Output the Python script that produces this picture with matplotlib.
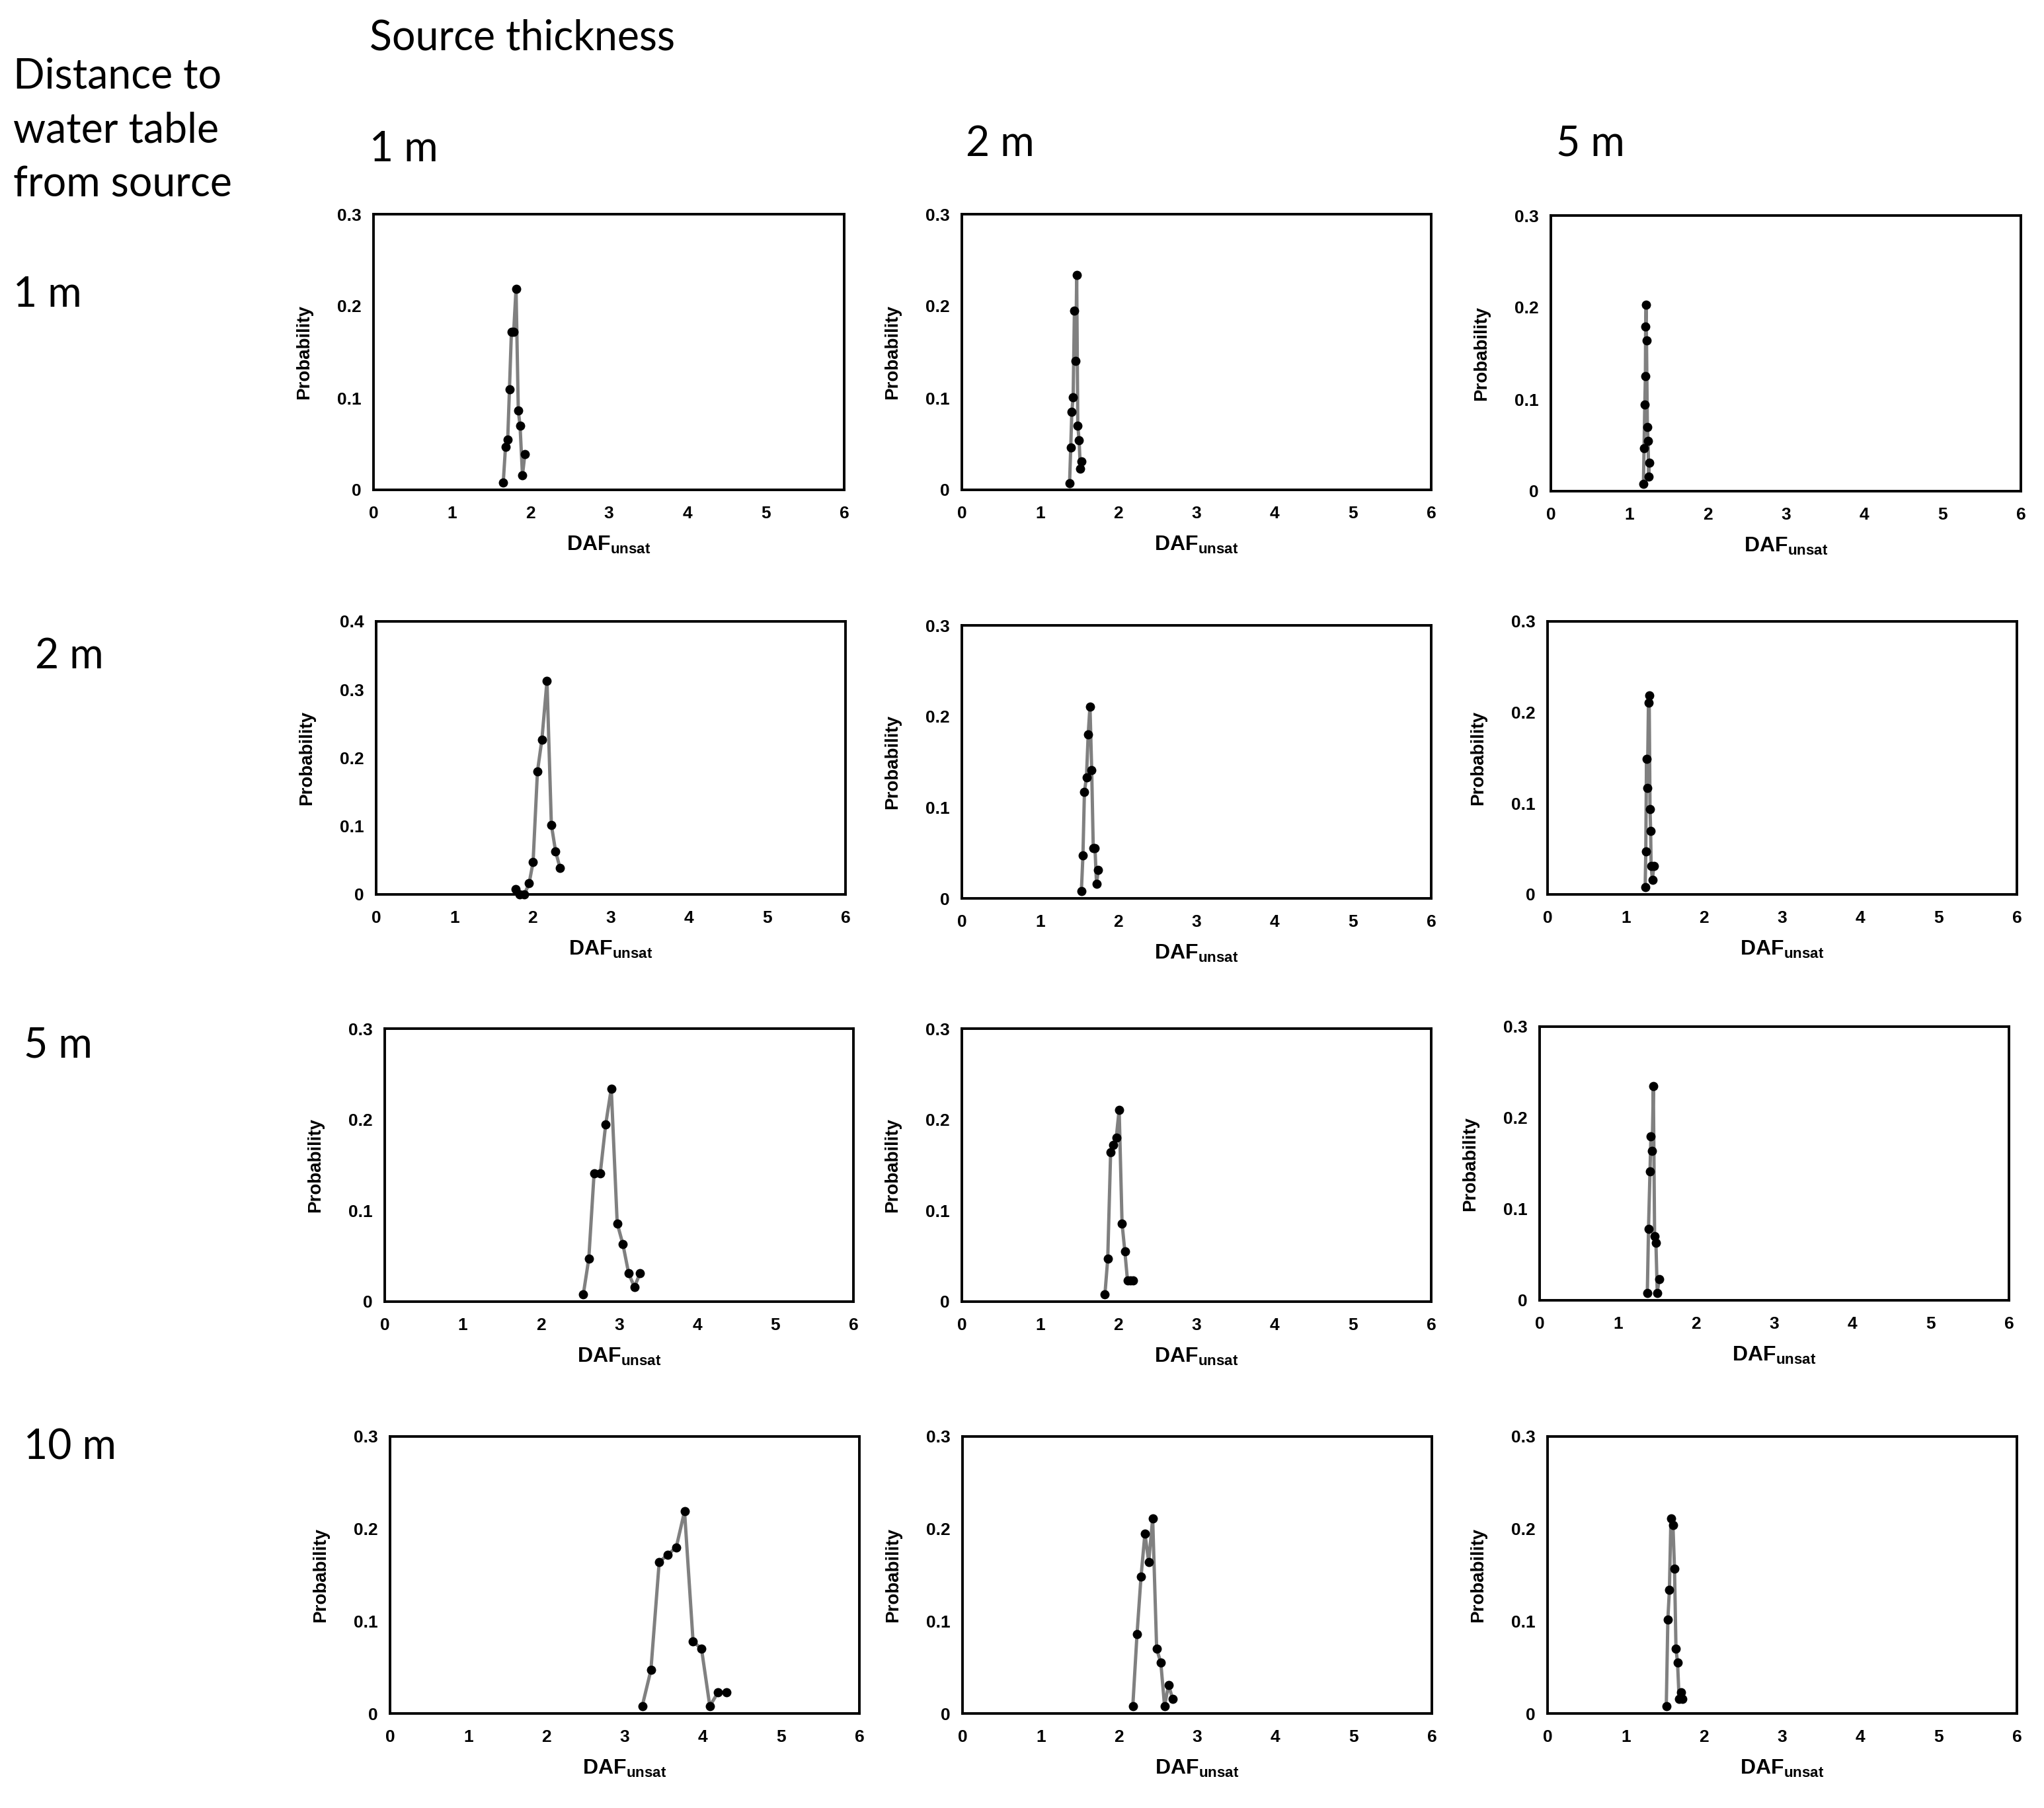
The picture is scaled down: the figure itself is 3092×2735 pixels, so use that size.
import matplotlib
matplotlib.use("Agg")
import matplotlib.pyplot as plt

# --- fonts ---
plt.rcParams["font.family"] = ["Liberation Sans", "DejaVu Sans"]
plt.rcParams["mathtext.fontset"] = "custom"
plt.rcParams["mathtext.bf"] = "Liberation Sans:bold"
plt.rcParams["mathtext.rm"] = "Liberation Sans"
plt.rcParams["mathtext.it"] = "Liberation Sans:italic"

HEAD_FONT = ["Lato", "DejaVu Sans"]
HEAD_SIZE = 45
TICK_SIZE = 19
LABEL_SIZE = 20

# --- labels ---
row_labels = ["1 m", "2 m", "5 m", "10 m"]     # distance to water table
col_labels = ["1 m", "2 m", "5 m"]             # source thickness
x_ticks = [0, 1, 2, 3, 4, 5, 6]

# --- data (DAF_unsat, probability) ---
# distance 1 m
daf_d1_t1 = [1.654, 1.683, 1.711, 1.733, 1.758, 1.787, 1.817, 1.846, 1.868, 1.899, 1.930]
prob_d1_t1 = [0.008, 0.047, 0.055, 0.109, 0.172, 0.172, 0.219, 0.086, 0.070, 0.016, 0.039]
daf_d1_t2 = [1.377, 1.392, 1.406, 1.423, 1.439, 1.456, 1.468, 1.482, 1.499, 1.515, 1.532]
prob_d1_t2 = [0.007, 0.046, 0.085, 0.101, 0.195, 0.140, 0.234, 0.070, 0.054, 0.023, 0.031]
daf_d1_t3 = [1.182, 1.190, 1.199, 1.207, 1.210, 1.216, 1.221, 1.232, 1.241, 1.249, 1.255]
prob_d1_t3 = [0.008, 0.047, 0.094, 0.125, 0.179, 0.203, 0.164, 0.070, 0.055, 0.016, 0.031]
# distance 2 m
daf_d2_t1 = [1.780, 1.833, 1.895, 1.955, 2.006, 2.062, 2.119, 2.184, 2.240, 2.294, 2.350]
prob_d2_t1 = [0.008, 0.0, 0.0, 0.016, 0.047, 0.180, 0.227, 0.313, 0.102, 0.063, 0.039]
daf_d2_t2 = [1.528, 1.548, 1.567, 1.593, 1.615, 1.638, 1.660, 1.680, 1.702, 1.722, 1.744]
prob_d2_t2 = [0.008, 0.047, 0.117, 0.133, 0.180, 0.211, 0.141, 0.055, 0.055, 0.016, 0.031]
daf_d2_t3 = [1.248, 1.256, 1.265, 1.276, 1.290, 1.299, 1.310, 1.318, 1.324, 1.341, 1.358]
prob_d2_t3 = [0.008, 0.047, 0.149, 0.117, 0.211, 0.219, 0.094, 0.070, 0.031, 0.016, 0.031]
# distance 5 m
daf_d3_t1 = [2.542, 2.612, 2.680, 2.759, 2.829, 2.900, 2.976, 3.049, 3.123, 3.196, 3.267]
prob_d3_t1 = [0.008, 0.047, 0.141, 0.141, 0.195, 0.234, 0.086, 0.063, 0.031, 0.016, 0.031]
daf_d3_t2 = [1.829, 1.865, 1.902, 1.938, 1.974, 2.011, 2.048, 2.084, 2.118, 2.154, 2.191]
prob_d3_t2 = [0.008, 0.047, 0.164, 0.172, 0.180, 0.211, 0.086, 0.055, 0.023, 0.023, 0.023]
daf_d3_t3 = [1.377, 1.392, 1.411, 1.423, 1.439, 1.454, 1.470, 1.487, 1.504, 1.527]
prob_d3_t3 = [0.008, 0.078, 0.141, 0.180, 0.164, 0.235, 0.070, 0.063, 0.008, 0.023]
# distance 10 m
daf_d4_t1 = [3.224, 3.335, 3.441, 3.550, 3.659, 3.765, 3.874, 3.982, 4.088, 4.194, 4.303]
prob_d4_t1 = [0.008, 0.047, 0.164, 0.172, 0.180, 0.219, 0.078, 0.070, 0.008, 0.023, 0.023]
daf_d4_t2 = [2.177, 2.231, 2.282, 2.332, 2.380, 2.431, 2.482, 2.535, 2.583, 2.634, 2.685]
prob_d4_t2 = [0.008, 0.086, 0.148, 0.195, 0.164, 0.211, 0.070, 0.055, 0.008, 0.031, 0.016]
daf_d4_t3 = [1.518, 1.538, 1.558, 1.577, 1.603, 1.623, 1.642, 1.662, 1.682, 1.704, 1.724]
prob_d4_t3 = [0.008, 0.102, 0.134, 0.211, 0.204, 0.157, 0.070, 0.055, 0.016, 0.023, 0.016]

panels = [
    [(daf_d1_t1, prob_d1_t1), (daf_d1_t2, prob_d1_t2), (daf_d1_t3, prob_d1_t3)],
    [(daf_d2_t1, prob_d2_t1), (daf_d2_t2, prob_d2_t2), (daf_d2_t3, prob_d2_t3)],
    [(daf_d3_t1, prob_d3_t1), (daf_d3_t2, prob_d3_t2), (daf_d3_t3, prob_d3_t3)],
    [(daf_d4_t1, prob_d4_t1), (daf_d4_t2, prob_d4_t2), (daf_d4_t3, prob_d4_t3)],
]
y_max = [[0.3, 0.3, 0.3], [0.4, 0.3, 0.3], [0.3, 0.3, 0.3], [0.3, 0.3, 0.3]]

# --- layout (pixel boxes: left, top, right, bottom) ---
W, H = 3092, 2735
boxes = [
    [(565, 324, 1277, 741), (1455, 324, 2165, 741), (2346, 326, 3057, 743)],
    [(569, 940, 1279, 1353), (1455, 946, 2165, 1359), (2341, 940, 3051, 1353)],
    [(582, 1556, 1291, 1969), (1455, 1556, 2165, 1969), (2329, 1553, 3039, 1967)],
    [(590, 2173, 1300, 2592), (1456, 2173, 2166, 2592), (2341, 2173, 3051, 2592)],
]

fig = plt.figure(figsize=(W / 100, H / 100), dpi=100)


def fig_xy(px, py):
    return px / W, 1 - py / H


for r in range(4):
    for c in range(3):
        l, t, rt, b = boxes[r][c]
        ax = fig.add_axes([l / W, 1 - b / H, (rt - l) / W, (b - t) / H])
        x, y = panels[r][c]
        ax.plot(x, y, color="#808080", lw=3.6, marker="o", ms=9,
                mfc="black", mec="black", clip_on=False, zorder=3)
        ax.set_xlim(0, 6)
        ax.set_ylim(0, y_max[r][c])
        ax.set_xticks(x_ticks)
        yt = [0, 0.1, 0.2, 0.3] if y_max[r][c] == 0.3 else [0, 0.1, 0.2, 0.3, 0.4]
        ax.set_yticks(yt)
        ax.set_yticklabels(["0" if v == 0 else f"{v:.1f}" for v in yt])
        ax.tick_params(length=0, labelsize=TICK_SIZE)
        ax.tick_params(axis="x", pad=17)
        ax.tick_params(axis="y", pad=13)
        for lab in ax.get_xticklabels() + ax.get_yticklabels():
            lab.set_fontweight("bold")
        for s in ax.spines.values():
            s.set_linewidth(2.8)
            s.set_color("black")
        ax.set_ylabel("Probability", fontsize=LABEL_SIZE, fontweight="bold")
        ax.yaxis.set_label_coords(-92 / (rt - l), 0.5)
        ax.set_xlabel(r"$\mathbf{DAF}_{\mathbf{unsat}}$", fontsize=LABEL_SIZE + 3)
        ax.xaxis.set_label_coords(0.5, -68 / (b - t))

# --- headings ---
fig.text(*fig_xy(559, 58), "Source thickness", fontsize=HEAD_SIZE,
         family=HEAD_FONT, ha="left", va="center")
for i, line in enumerate(["Distance to", "water table", "from source"]):
    fig.text(*fig_xy(20, 115 + 82 * i), line, fontsize=HEAD_SIZE,
             family=HEAD_FONT, ha="left", va="center")

col_pos = [(559, 226), (1461, 218), (2354, 218)]
for lbl, (px, py) in zip(col_labels, col_pos):
    fig.text(*fig_xy(px, py), lbl, fontsize=HEAD_SIZE, family=HEAD_FONT,
             ha="left", va="center")

row_pos = [(20, 446), (53, 993), (36, 1582), (36, 2190)]
for lbl, (px, py) in zip(row_labels, row_pos):
    fig.text(*fig_xy(px, py), lbl, fontsize=HEAD_SIZE, family=HEAD_FONT,
             ha="left", va="center")

fig.savefig("out.png", dpi=100)
